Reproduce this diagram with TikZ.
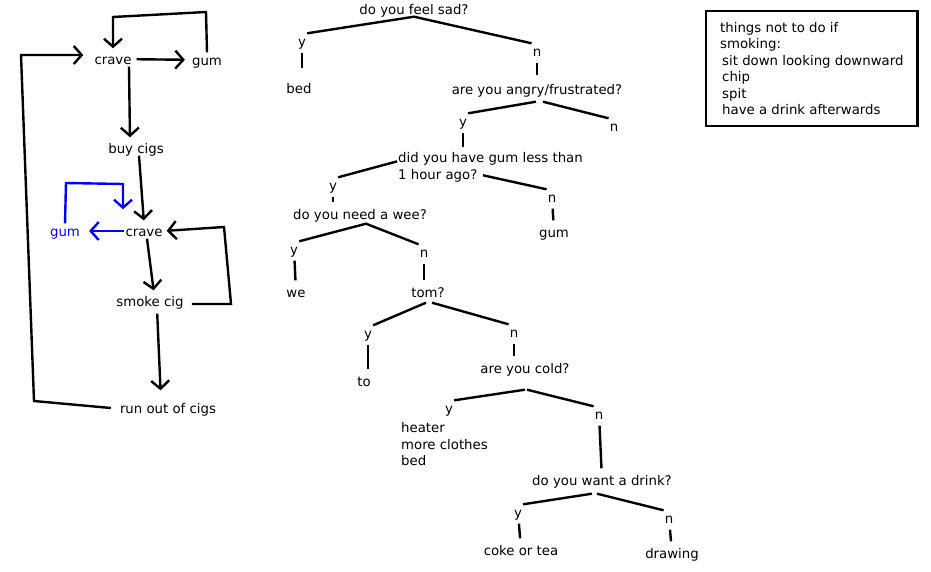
\documentclass[tikz,border=0pt]{standalone}
\usepackage{fontspec}
\setmainfont{DejaVu Sans}
\usetikzlibrary{arrows.meta, calc}

\begin{document}
\begin{tikzpicture}[x=1pt, y=-1pt, font=\fontsize{13.3}{16.5}\selectfont,
    word/.style={inner sep=1pt, text height=12pt, text depth=1pt},
    lines/.style={inner sep=1pt, align=left, anchor=north west},
    arr/.style={line width=2.4pt, -{Straight Barb[length=8pt,width=18pt]}, shorten >=3pt},
    branch/.style={line width=2.4pt},
    stem/.style={line width=2.4pt, shorten <=4pt, shorten >=4pt}]
    \useasboundingbox (0,0) rectangle (931,572);

    \node (crave) [word] at (113,59) {crave};
    \node (gum) [word] at (207,60) {gum};
    \node (buy) [word] at (136,148) {buy cigs};
    \node (crave2) [word] at (144,231) {crave};
    \node (gum2) [word, blue] at (65,231) {gum};
    \node (smoke) [word] at (150,301) {smoke cig};
    \node (runout) [word] at (168,408) {run out of cigs};

    \draw[arr, shorten <=4pt, shorten >=6pt] (crave) -- (gum);
    \draw[arr] (gum.north) -- (206,12) -- (113,17) -- (crave.north);
    \draw[arr] ([xshift=16pt]crave.south) -- ([xshift=-6pt]buy.north);
    \draw[arr] ([xshift=3pt]buy.south) -- (crave2.north);
    \draw[arr, blue] (gum2.north) -- (66,183) -- (123,184) -- ([xshift=-21pt, yshift=11pt]crave2.north);
    \draw[arr, blue, shorten >=8pt] (crave2) -- (gum2);
    \draw[arr] ([xshift=3pt]crave2.south) -- ([xshift=4pt]smoke.north);
    \draw[arr, shorten <=7pt] ([yshift=-3pt]smoke.east) -- (231,304) -- (224,227) -- (crave2.east);
    \draw[arr, shorten <=5pt, shorten >=10pt] ([xshift=7pt]smoke.south) -- ([xshift=-7pt]runout.north);
    \draw[arr, shorten >=10pt] ([xshift=-8pt]runout.west) -- (34,401) -- (21,55) -- ([yshift=4pt]crave.west);

    \node (sad) [word] at (414,9) {do you feel sad?};
    \node (y1) [word] at (302,41) {y};
    \node (bed) [word] at (299,88) {bed};
    \node (n1) [word] at (537,51) {n};
    \node (angry) [word] at (537,89) {are you angry/frustrated?};
    \node (y2) [word] at (463,121) {y};
    \node (n2) [word] at (614,126) {n};
    \node (gumq) [lines] at (397,151.5) {did you have gum less than\\1 hour ago?};
    \node (y3) [word] at (333,185) {y};
    \node (n3) [word] at (552,197) {n};
    \node (gum3) [word] at (554,232) {gum};
    \node (wee) [word] at (360,214) {do you need a wee?};
    \node (y4) [word] at (294,249) {y};
    \node (we) [word] at (296,292) {we};
    \node (n4) [word] at (424,252) {n};
    \node (tom) [word] at (428,292) {tom?};
    \node (y5) [word] at (368,333) {y};
    \node (toans) [word] at (364,381) {to};
    \node (n5) [word] at (514,332) {n};
    \node (cold) [word] at (525,368) {are you cold?};
    \node (y6) [word] at (449,408) {y};
    \node (warm) [lines] at (400,421.5) {heater\\more clothes\\bed};
    \node (n6) [word] at (599,414) {n};
    \node (drink) [word] at (602,480) {do you want a drink?};
    \node (y7) [word] at (518,512) {y};
    \node (coke) [word] at (521,550) {coke or tea};
    \node (n7) [word] at (669,518) {n};
    \node (drawing) [word] at (672,553) {drawing};

    \draw[branch] (y1.north east) -- (sad.south) -- (n1.north west);
    \draw[stem, shorten >=12pt] (y1) -- (y1 |- bed.north);
    \draw[stem, shorten >=6pt] (n1) -- (angry);
    \draw[branch] (y2.north east) -- ([xshift=-1pt, yshift=-5pt]angry.south);
    \draw[branch] ([xshift=6pt, yshift=-5pt]angry.south) -- (n2.north west);
    \draw[stem] (y2) -- (y2 |- gumq.north);
    \draw[branch] ([yshift=6pt]gumq.west) -- (y3.north east);
    \draw[branch] ([xshift=86pt, yshift=8pt]gumq.south west) -- (n3.north west);
    \draw[stem] (y3) -- (y3 |- wee.north);
    \draw[stem] (n3) -- (gum3);
    \draw[branch] (y4.north east) -- ([xshift=6pt, yshift=-2pt]wee.south) -- (n4.north west);
    \draw[stem] (y4) -- (we);
    \draw[stem] (n4) -- (n4 |- tom.north);
    \draw[branch] (y5.north east) -- ([xshift=-2pt, yshift=-3pt]tom.south);
    \draw[branch] ([xshift=4pt, yshift=-3pt]tom.south) -- (n5.north west);
    \draw[stem] (y5) -- (y5 |- toans.north);
    \draw[stem] (n5) -- (n5 |- cold.north);
    \draw[branch] (y6.north east) -- ([yshift=-14pt]cold.south);
    \draw[branch] ([xshift=2pt, yshift=-14pt]cold.south) -- (n6.north west);
    \draw[stem] (n6) -- (drink);
    \draw[branch] (y7.north east) -- ([xshift=-10pt, yshift=-6pt]drink.south);
    \draw[branch] ([xshift=-5pt, yshift=-6pt]drink.south) -- (n7.north west);
    \draw[stem] (y7) -- (coke);
    \draw[stem] (n7) -- (drawing);

    \node (tips) [draw, line width=2.4pt, align=left, anchor=north west, inner xsep=14pt, inner ysep=11pt] at (705,10)
        {things not to do if\\smoking:\\\hspace*{2pt}sit down looking downward\\\hspace*{2pt}chip\\\hspace*{2pt}spit\\\hspace*{2pt}have a drink afterwards};
\end{tikzpicture}
\end{document}
